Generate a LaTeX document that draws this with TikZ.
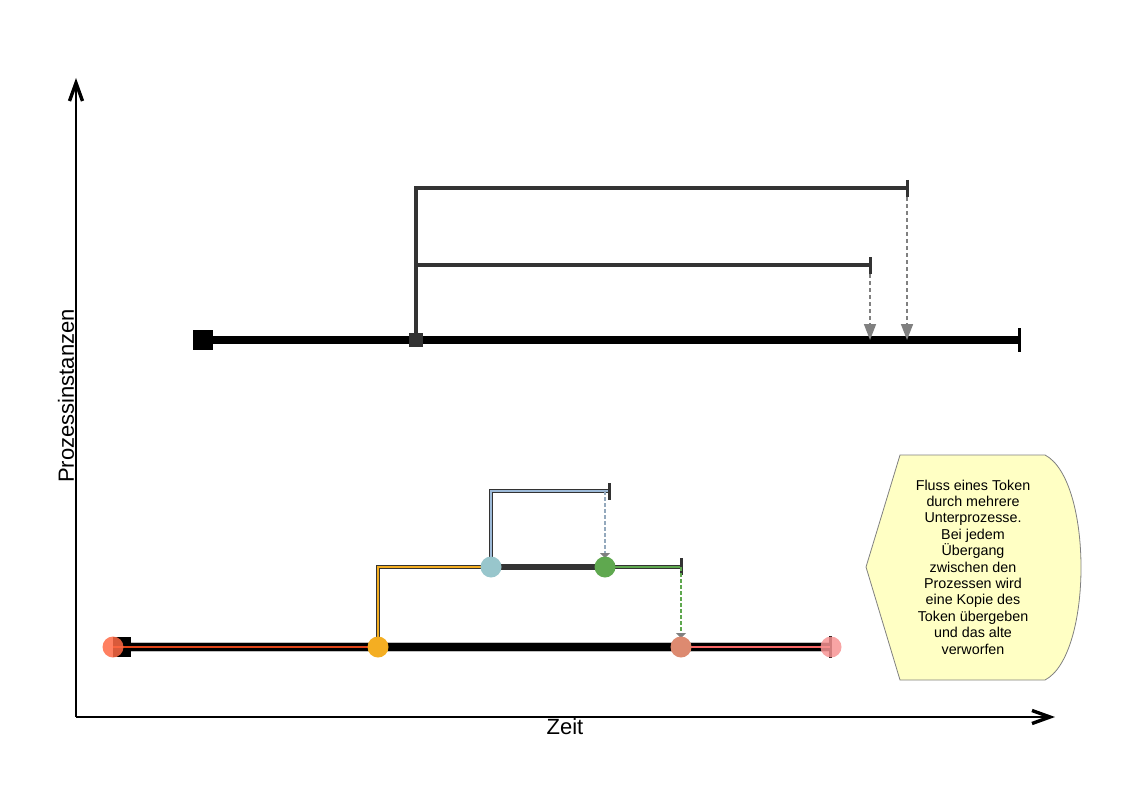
\documentclass[tikz,border=0pt]{standalone}
\usepackage{fontspec}
\setmainfont{Liberation Sans}
\usetikzlibrary{arrows.meta}

\definecolor{linegrey}{HTML}{333333}
\definecolor{dashgrey}{HTML}{808080}
\definecolor{notefill}{HTML}{FFFFC4}
\definecolor{tokstart}{HTML}{FF6A45}
\definecolor{tokred}{HTML}{E0451A}
\definecolor{tokyellow}{HTML}{F4AE22}
\definecolor{tokblue}{HTML}{98C6CC}
\definecolor{tokbluel}{HTML}{9DBAD8}
\definecolor{tokgreen}{HTML}{5FA84F}
\definecolor{toksalmon}{HTML}{DD8A70}
\definecolor{tokpink}{HTML}{F79494}

\tikzset{
  axis/.style={line width=1.3pt, -{Straight Barb[length=18pt,width=13pt,line width=3.4pt]}},
  mainline/.style={line width=8.5pt, black},
  subline/.style={line width=4pt, linegrey},
  endtick/.style={line width=3pt, linegrey},
  mergearrow/.style={line width=1.6pt, dashgrey, dash pattern=on 4pt off 3pt,
    -{Triangle[length=16pt,width=12pt]}},
  startsq/.style={rectangle, fill=black, minimum size=20pt, inner sep=0pt},
  splitsq/.style={rectangle, fill=linegrey, minimum size=14pt, inner sep=0pt},
  token/.style={circle, fill=#1, minimum size=21pt, inner sep=0pt},
}

\begin{document}
\begin{tikzpicture}[x=1pt, y=-1pt]
  \useasboundingbox (0,0) rectangle (1123,794);

  % Axes
  \coordinate (O) at (76,717);
  \coordinate (ytop) at (76,78);
  \coordinate (xend) at (1055,717);
  \draw[axis] (O) -- (ytop);
  \draw[axis] (O) -- (xend);
  \node[font=\fontsize{22}{26}\selectfont] (zeit) at (565,727) {Zeit};
  \node[font=\fontsize{22}{26}\selectfont, rotate=90] (inst) at (66,396) {Prozessinstanzen};

  % Upper process: main line with two subprocesses
  \coordinate (pa) at (203,340);
  \coordinate (pb) at (416,340);
  \coordinate (pe) at (1019,340);
  \coordinate (ua) at (416,188);
  \coordinate (ub) at (907,188);
  \coordinate (va) at (416,265);
  \coordinate (vb) at (870,265);

  \draw[mainline] (pa) -- (pe);
  \draw[endtick, black] ([yshift=12pt]pe) -- ([yshift=-12pt]pe);
  \draw[subline, line cap=rect] (pb) -- (ua) -- (ub);
  \draw[subline] (va) -- (vb);
  \draw[endtick] ([yshift=8pt]ub) -- ([yshift=-9pt]ub);
  \draw[endtick] ([yshift=8pt]vb) -- ([yshift=-9pt]vb);
  \draw[mergearrow] ([yshift=-9pt]ub) -- (ub |- pe);
  \draw[mergearrow] ([yshift=-9pt]vb) -- (vb |- pe);
  \node[startsq] (s1) at (pa) {};
  \node[splitsq] (s2) at (pb) {};

  % Lower process: token passing through the subprocesses
  \coordinate (qa) at (122,647);
  \coordinate (qb) at (378,647);
  \coordinate (qc) at (681,647);
  \coordinate (qe) at (830,647);
  \coordinate (ra) at (378,567);
  \coordinate (rb) at (491,567);
  \coordinate (rc) at (605,567);
  \coordinate (rd) at (681,567);
  \coordinate (wa) at (491,491);
  \coordinate (wb) at (609,491);

  \draw[line width=9.5pt, black!25] (qa) -- (qe);
  \draw[line width=7.5pt, black] (qa) -- (qe);
  \draw[endtick, black] ([yshift=11pt]qe) -- ([yshift=-11pt]qe);
  \node[startsq, minimum width=18pt] (s3) at (qa) {};

  % first subprocess
  \draw[line width=4.5pt, linegrey] (qb) -- (ra) -- (rd);
  \draw[line width=6pt, linegrey] (rb) -- (rc);
  \draw[line width=1.2pt, tokyellow] (qb) -- (ra) -- (rb);
  \draw[line width=1.2pt, tokgreen] (rc) -- (rd);
  \draw[endtick] ([yshift=9pt]rd) -- ([yshift=-8pt]rd);

  % second subprocess
  \draw[line width=4.5pt, linegrey] (rb) -- (wa) -- (wb);
  \draw[line width=1.2pt, tokbluel] (rb) -- (wa) -- (wb);
  \draw[endtick] ([yshift=8pt]wb) -- ([yshift=-9pt]wb);

  % token copies handed back
  \draw[line width=1.4pt, tokbluel!70!gray, dash pattern=on 4pt off 2pt,
    -{Triangle[length=5pt,width=10pt,dashgrey]}] (rc |- wb) -- ([yshift=9pt]rc);
  \draw[line width=1.4pt, tokgreen, dash pattern=on 4pt off 2pt,
    -{Triangle[length=5pt,width=10pt,dashgrey]}] (rd) -- ([yshift=9pt]qc);

  % token path on the main line
  \draw[line width=1.5pt, tokred] (113,647) -- (qb);
  \draw[line width=1.5pt, tokpink!70!red] (qc) -- (qe);

  \node[token=tokstart, fill opacity=0.85] (t0) at (113,647) {};
  \node[token=tokyellow] (t1) at (qb) {};
  \node[token=tokblue] (t2) at (rb) {};
  \node[token=tokgreen] (t3) at (rc) {};
  \node[token=toksalmon] (t4) at (qc) {};
  \node[token=tokpink, fill opacity=0.85] (t5) at (831,647) {};

  % Note
  \draw[fill=notefill, draw=gray, line width=0.8pt]
    (900,455) -- (1045,455) .. controls (1093,480) and (1093,655) .. (1045,680)
    -- (900,680) -- (866,567) -- cycle;
  \node[align=center, font=\fontsize{14.3}{16.4}\selectfont] (note) at (973,567)
    {Fluss eines Token\\durch mehrere\\Unterprozesse.\\Bei jedem\\Übergang\\zwischen den\\Prozessen wird\\eine Kopie des\\Token übergeben\\und das alte\\verworfen};
\end{tikzpicture}
\end{document}
